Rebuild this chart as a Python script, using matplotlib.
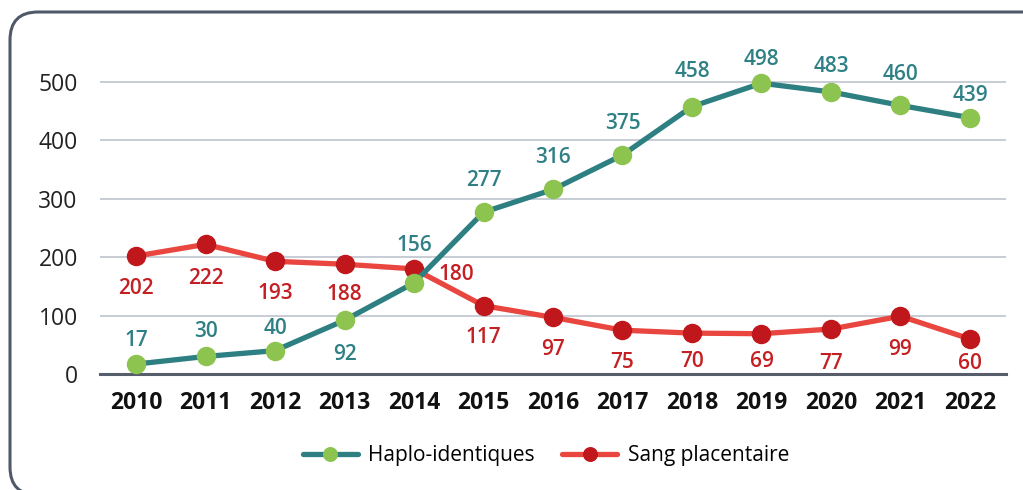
import matplotlib.pyplot as plt
from matplotlib.patches import FancyBboxPatch

plt.rcParams['font.family'] = ['Open Sans', 'DejaVu Sans']

# DATA
years = [2010, 2011, 2012, 2013, 2014, 2015, 2016, 2017, 2018, 2019, 2020, 2021, 2022]
haplo = [17, 30, 40, 92, 156, 277, 316, 375, 458, 498, 483, 460, 439]
sang = [202, 222, 193, 188, 180, 117, 97, 75, 70, 69, 77, 99, 60]
yticks = [0, 100, 200, 300, 400, 500]

# label placement (pixel offsets from each point)
haplo_dy = [24, 25, 22, -34, 37, 32, 32, 32, 35, 24, 25, 31, 22]
sang_off = [(0, -32), (0, -34), (0, -32), (0, -30), (42, -6), (0, -32), (0, -32),
            (0, -32), (0, -28), (0, -28), (0, -34), (0, -33), (0, -25)]

TEAL = "#2E7F82"
GREEN = "#8DC450"
RED_LINE = "#E8463F"
RED_DOT = "#C0171C"
TEAL_TXT = "#2F8085"
RED_TXT = "#C41F22"

fig = plt.figure(figsize=(10.23, 4.9), dpi=100)
ax = fig.add_axes([100 / 1023, 1 - 374 / 490, 906 / 1023, 334 / 490])

# rounded frame around the whole chart (inches)
R = 0.28
frame = FancyBboxPatch((0.10 + R, -0.05 + R), 10.46 - 2 * R, 4.83 - 2 * R,
                       boxstyle="round,pad=%g" % R, transform=fig.dpi_scale_trans,
                       fill=False, edgecolor="#4F5968", linewidth=2.2, zorder=0)
fig.patches.append(frame)

ax.plot(years, haplo, color=TEAL, lw=3.8, marker="o", ms=13,
        markerfacecolor=GREEN, markeredgecolor=GREEN, label="Haplo-identiques",
        clip_on=False, zorder=4, solid_capstyle="round")
ax.plot(years, sang, color=RED_LINE, lw=3.8, marker="o", ms=13,
        markerfacecolor=RED_DOT, markeredgecolor=RED_DOT, label="Sang placentaire",
        clip_on=False, zorder=3, solid_capstyle="round")

for x, v, dy in zip(years, haplo, haplo_dy):
    ax.annotate(str(v), (x, v), textcoords="offset pixels", xytext=(0, dy),
                ha="center", va="center", color=TEAL_TXT, fontsize=15,
                fontweight="semibold")
for x, v, off in zip(years, sang, sang_off):
    ax.annotate(str(v), (x, v), textcoords="offset pixels", xytext=off,
                ha="center", va="center", color=RED_TXT, fontsize=15,
                fontweight="semibold")

ax.set_xlim(2009.482, 2022.518)
ax.set_ylim(0, 572)
ax.set_yticks(yticks)
ax.set_xticks(years)
ax.set_xticklabels([str(y) for y in years], fontweight="bold", fontsize=16.5)
ax.tick_params(axis="y", length=0, pad=16, labelsize=16.5, labelcolor="#222222")
ax.tick_params(axis="x", length=0, pad=12, labelcolor="#111111")
ax.grid(axis="y", color="#C3C8D2", lw=1.3)
ax.set_axisbelow(True)
for s in ["top", "right", "left"]:
    ax.spines[s].set_visible(False)
ax.spines["bottom"].set_color("#565E6C")
ax.spines["bottom"].set_linewidth(2.2)
ax.spines["bottom"].set_zorder(2)

fig.legend(loc="center", bbox_to_anchor=(546 / 1023, 1 - 456 / 490), ncol=2,
           frameon=False, fontsize=15, handlelength=2.65, columnspacing=1.3,
           handletextpad=0.5, markerscale=0.75)

fig.savefig("out.png", dpi=100)
